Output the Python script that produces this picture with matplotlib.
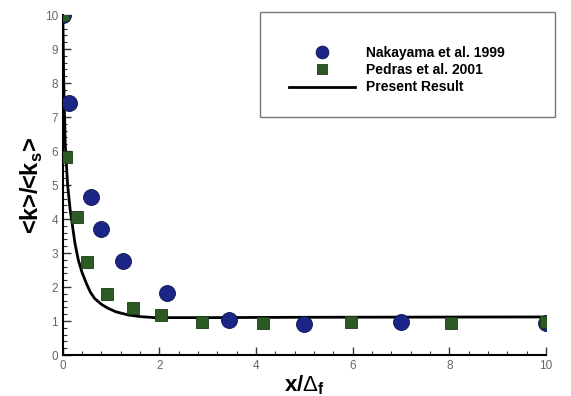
import matplotlib
matplotlib.use("Agg")
import matplotlib.pyplot as plt
from matplotlib.patches import Rectangle
from matplotlib.ticker import MultipleLocator

plt.rcParams['font.family'] = ['Liberation Sans', 'DejaVu Sans']
plt.rcParams['mathtext.fontset'] = 'custom'
plt.rcParams['mathtext.rm'] = 'Liberation Sans'
plt.rcParams['mathtext.bf'] = 'Liberation Sans:bold'

# Data
nak_x = [0.0, 0.12, 0.58, 0.79, 1.24, 2.15, 3.44, 5.0, 7.0, 10.0]
nak_y = [10.0, 7.41, 4.65, 3.70, 2.76, 1.82, 1.03, 0.91, 0.97, 0.95]

ped_x = [0.0, 0.06, 0.29, 0.50, 0.91, 1.45, 2.03, 2.88, 4.14, 5.96, 8.03, 10.0]
ped_y = [10.0, 5.82, 4.06, 2.74, 1.80, 1.38, 1.18, 0.97, 0.94, 0.96, 0.94, 0.96]

line_x = [0.0, 0.02, 0.05, 0.10, 0.15, 0.20, 0.25, 0.32, 0.40, 0.49, 0.57, 0.66, 0.80, 0.93,
          1.10, 1.35, 1.60, 1.90, 3.0, 5.0, 10.0]
line_y = [10.0, 8.0, 6.2, 5.0, 4.3, 3.8, 3.3, 2.8, 2.42, 2.1, 1.85, 1.66, 1.49, 1.38,
          1.27, 1.18, 1.13, 1.10, 1.10, 1.11, 1.12]

fig = plt.figure(figsize=(5.71, 3.96), dpi=100)
ax = fig.add_axes([0.110, 0.1035, 0.846, 0.8585])

ax.plot(line_x, line_y, color='black', lw=2, label='Present Result', zorder=2)
ax.plot(nak_x, nak_y, 'o', color='#1b2585', markersize=11.5, markeredgecolor='#10154f',
        markeredgewidth=0.6, label='Nakayama et al. 1999', zorder=3)
ax.plot(ped_x, ped_y, 's', color='#2b5a22', markersize=8.5, markeredgecolor='#1a3a14',
        markeredgewidth=0.6, label='Pedras et al. 2001', zorder=4)

ax.set_xlim(0, 10)
ax.set_ylim(0, 10)
ax.xaxis.set_major_locator(MultipleLocator(2))
ax.xaxis.set_minor_locator(MultipleLocator(0.4))
ax.yaxis.set_major_locator(MultipleLocator(1))
ax.yaxis.set_minor_locator(MultipleLocator(0.2))
ax.tick_params(which='both', direction='in', labelsize=8.5, labelcolor='#666666', color='#333333')
ax.tick_params(which='major', length=6, width=1)
ax.tick_params(which='minor', length=3, width=0.8)
for s in ['top', 'right']:
    ax.spines[s].set_visible(False)
for s in ['left', 'bottom']:
    ax.spines[s].set_linewidth(1.5)

ax.set_xlabel(r'x/$\Delta_{\mathbf{f}}$', fontsize=16, fontweight='bold', labelpad=1)
ax.set_ylabel(r'<k>/<k$_\mathbf{s}$>', fontsize=17, fontweight='bold', labelpad=0)

# Legend box
fig.patches.append(Rectangle((260/571, 1-117/396), 295/571, 105/396, transform=fig.transFigure,
                             fill=False, edgecolor='#777777', lw=1.0))
handles, labels = ax.get_legend_handles_labels()
order = [1, 2, 0]
leg = fig.legend([handles[i] for i in order], [labels[i] for i in order],
                 loc='center left', bbox_to_anchor=(276/571, 1-70/396), frameon=False,
                 prop={'weight': 'bold', 'size': 10}, handlelength=4.8, labelspacing=0.25,
                 handletextpad=0.8, markerscale=0.8)

fig.savefig('out.png', dpi=100)
